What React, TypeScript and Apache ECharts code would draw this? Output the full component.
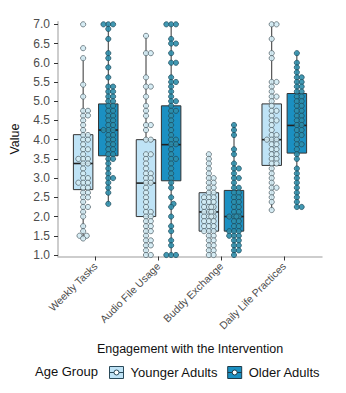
import React, { useEffect, useRef } from "react";
import * as echarts from "echarts";

const categories = ["Weekly Tasks", "Audio File Usage", "Buddy Exchange", "Daily Life Practices"];
const groupNames = ["Younger Adults", "Older Adults"];
const yTickValues = [1.0, 1.5, 2.0, 2.5, 3.0, 3.5, 4.0, 4.5, 5.0, 5.5, 6.0, 6.5, 7.0];

// box stats per category: [lower whisker, Q1, median, Q3, upper whisker]
const youngerBox = [
  [1.43, 2.7, 3.38, 4.13, 6.13],
  [1.0, 2.0, 2.87, 4.0, 6.7],
  [1.0, 1.62, 2.12, 2.62, 3.62],
  [2.17, 3.33, 4.0, 4.93, 7.0],
];
const olderBox = [
  [2.33, 3.58, 4.25, 4.93, 7.0],
  [1.0, 2.93, 3.87, 4.88, 7.0],
  [1.0, 1.62, 2.0, 2.68, 4.38],
  [2.25, 3.65, 4.37, 5.2, 6.25],
];

// individual observations
const youngerWeekly = [7.0, 6.38, 6.12, 5.43, 5.12, 4.75, 4.75, 4.63, 4.62, 4.5, 4.38, 4.25, 4.12, 4.12, 4.0, 4.0, 3.88, 3.75, 3.75, 3.62, 3.5, 3.5, 3.5, 3.38, 3.38, 3.25, 3.12, 3.0, 3.0, 2.88, 2.88, 2.88, 2.75, 2.75, 2.62, 2.62, 2.5, 2.5, 2.38, 2.25, 2.25, 2.12, 2.0, 1.75, 1.62, 1.5, 1.5, 1.43];
const olderWeekly = [7.0, 7.0, 7.0, 6.88, 6.62, 6.25, 6.12, 5.88, 5.62, 5.38, 5.38, 5.25, 5.25, 5.12, 5.12, 5.0, 5.0, 4.88, 4.88, 4.75, 4.75, 4.62, 4.62, 4.5, 4.5, 4.38, 4.38, 4.25, 4.25, 4.25, 4.12, 4.12, 4.0, 4.0, 3.88, 3.88, 3.75, 3.75, 3.62, 3.62, 3.5, 3.5, 3.38, 3.25, 3.12, 3.0, 3.0, 2.88, 2.75, 2.62, 2.33];
const youngerAudio = [6.7, 6.25, 6.25, 5.62, 5.38, 5.38, 5.12, 4.88, 4.75, 4.62, 4.38, 4.38, 4.25, 4.0, 4.0, 3.62, 3.62, 3.5, 3.38, 3.25, 3.12, 3.12, 3.0, 3.0, 2.88, 2.88, 2.75, 2.62, 2.5, 2.38, 2.25, 2.12, 2.12, 2.0, 2.0, 1.88, 1.88, 1.75, 1.75, 1.62, 1.62, 1.5, 1.38, 1.38, 1.25, 1.25, 1.12, 1.0, 1.0];
const olderAudio = [7.0, 7.0, 7.0, 6.62, 6.5, 6.5, 6.25, 6.0, 6.0, 5.62, 5.5, 5.5, 5.38, 5.25, 5.12, 5.0, 5.0, 4.88, 4.75, 4.75, 4.62, 4.5, 4.38, 4.25, 4.12, 4.0, 4.0, 3.88, 3.88, 3.75, 3.62, 3.5, 3.5, 3.38, 3.25, 3.12, 3.0, 2.88, 2.75, 2.5, 2.33, 2.25, 2.0, 1.75, 1.62, 1.38, 1.25, 1.0, 1.0, 1.0];
const youngerBuddy = [3.62, 3.5, 3.38, 3.25, 3.12, 3.0, 3.0, 2.88, 2.88, 2.75, 2.75, 2.62, 2.62, 2.5, 2.5, 2.5, 2.38, 2.38, 2.38, 2.25, 2.25, 2.25, 2.25, 2.12, 2.12, 2.12, 2.12, 2.0, 2.0, 2.0, 2.0, 1.88, 1.88, 1.88, 1.75, 1.75, 1.75, 1.62, 1.62, 1.62, 1.5, 1.5, 1.38, 1.38, 1.25, 1.25, 1.12, 1.12, 1.0, 1.0];
const olderBuddy = [4.38, 4.25, 4.12, 3.75, 3.62, 3.38, 3.25, 3.25, 3.12, 3.0, 3.0, 2.88, 2.75, 2.75, 2.62, 2.62, 2.5, 2.5, 2.38, 2.38, 2.25, 2.25, 2.12, 2.12, 2.0, 2.0, 2.0, 2.0, 1.88, 1.88, 1.75, 1.75, 1.62, 1.62, 1.62, 1.5, 1.5, 1.5, 1.38, 1.38, 1.25, 1.25, 1.12, 1.12, 1.0];
const youngerDaily = [7.0, 7.0, 6.62, 6.25, 6.12, 5.5, 5.5, 5.38, 5.25, 5.12, 5.12, 5.0, 4.88, 4.75, 4.75, 4.62, 4.5, 4.5, 4.38, 4.25, 4.12, 4.12, 4.0, 4.0, 4.0, 3.88, 3.88, 3.75, 3.75, 3.62, 3.62, 3.5, 3.5, 3.38, 3.38, 3.25, 3.12, 3.0, 2.88, 2.75, 2.75, 2.62, 2.5, 2.38, 2.17];
const olderDaily = [6.25, 6.0, 5.88, 5.75, 5.62, 5.62, 5.5, 5.5, 5.38, 5.38, 5.25, 5.25, 5.12, 5.12, 5.0, 5.0, 4.88, 4.88, 4.75, 4.75, 4.62, 4.62, 4.5, 4.5, 4.38, 4.38, 4.25, 4.25, 4.12, 4.12, 4.0, 3.88, 3.88, 3.75, 3.62, 3.5, 3.25, 3.12, 3.0, 2.88, 2.75, 2.62, 2.5, 2.38, 2.25, 2.25];

const youngerPoints = [youngerWeekly, youngerAudio, youngerBuddy, youngerDaily];
const olderPoints = [olderWeekly, olderAudio, olderBuddy, olderDaily];

const FONT = "Liberation Sans, Arial, sans-serif";
const YOUNG_FILL = "#bfe3f6";
const OLD_FILL = "#1b90c2";
const YOUNG_PT = "#d3ebf4";
const OLD_PT = "#2d8eab";
const YOUNG_PT_BORDER = "#4f5f66";
const OLD_PT_BORDER = "#1e4a5a";

function swarm(ys: number[], r: number, maxOff: number): number[] {
  const order = ys.map((_, i) => i).sort((a, b) => ys[b] - ys[a]);
  const placed: { x: number; y: number }[] = [];
  const xs = new Array(ys.length).fill(0);
  const minDist = 2 * r * 0.7;
  const step = 1.2;
  const cands: number[] = [0];
  for (let k = 1; k * step <= maxOff; k++) {
    cands.push(k * step, -k * step);
  }
  for (const i of order) {
    const y = ys[i];
    let best = 0;
    let bestScore = -Infinity;
    for (const c of cands) {
      let md = Infinity;
      for (const p of placed) {
        const dd = Math.hypot(p.x - c, p.y - y);
        if (dd < md) md = dd;
      }
      if (md >= minDist) {
        best = c;
        break;
      }
      if (md > bestScore) {
        bestScore = md;
        best = c;
      }
    }
    xs[i] = best;
    placed.push({ x: best, y });
  }
  return xs;
}

function makeSeries(name: string, offset: number, boxes: number[][], points: number[][], fill: string, ptFill: string, ptBorder: string) {
  return {
    type: "custom",
    name,
    itemStyle: { color: fill, borderColor: "#333" },
    data: categories.map((_, i) => [i + 1 + offset, boxes[i][2]]),
    renderItem: (params: any, api: any) => {
      const i = params.dataIndex;
      const cx = i + 1 + offset;
      const b = boxes[i];
      const halfW = 0.155;
      const pLow = api.coord([cx, b[0]]);
      const pQ1 = api.coord([cx, b[1]]);
      const pMed = api.coord([cx, b[2]]);
      const pQ3 = api.coord([cx, b[3]]);
      const pHigh = api.coord([cx, b[4]]);
      const left = api.coord([cx - halfW, b[2]])[0];
      const right = api.coord([cx + halfW, b[2]])[0];
      const x = pMed[0];
      const children: any[] = [
        { type: "line", shape: { x1: x, y1: pHigh[1], x2: x, y2: pQ3[1] }, style: { stroke: "#333", lineWidth: 1 } },
        { type: "line", shape: { x1: x, y1: pQ1[1], x2: x, y2: pLow[1] }, style: { stroke: "#333", lineWidth: 1 } },
        { type: "rect", shape: { x: left, y: pQ3[1], width: right - left, height: pQ1[1] - pQ3[1] }, style: { fill, stroke: "#333", lineWidth: 1 } },
        { type: "line", shape: { x1: left, y1: pMed[1], x2: right, y2: pMed[1] }, style: { stroke: "#222", lineWidth: 1.6 } },
      ];
      const vals = points[i];
      const ys = vals.map((v) => api.coord([cx, v])[1]);
      const r = 2.6;
      const xs = swarm(ys, r, 5);
      vals.forEach((_, k) => {
        children.push({
          type: "circle",
          shape: { cx: x + xs[k], cy: ys[k], r },
          style: { fill: ptFill, stroke: ptBorder, lineWidth: 0.8, opacity: 0.9 },
        });
      });
      return { type: "group", children };
    },
  };
}

const legendIcon = "path://M0 0H14V12H0Z M4.5 6a2.5 2.5 0 1 0 5 0a2.5 2.5 0 1 0 -5 0Z M0 6H4.5 M9.5 6H14";

export default function App() {
  const ref = useRef<HTMLDivElement>(null);
  useEffect(() => {
    if (!ref.current) return;
    const chart = echarts.init(ref.current, null, { renderer: "svg" });
    chart.setOption({
      animation: false,
      backgroundColor: "#ffffff",
      grid: { left: 54, right: 24, top: 21.7, bottom: 136.5 },
      xAxis: {
        type: "value",
        min: 0.4,
        max: 4.6,
        name: "Engagement with the Intervention",
        nameLocation: "middle",
        nameGap: 86,
        nameTextStyle: { color: "#111", fontSize: 12.5, fontFamily: FONT },
        splitLine: { show: false },
        axisLine: { show: true, lineStyle: { color: "#bdbdbd", width: 1.5 } },
        axisTick: { show: true, customValues: [1, 2, 3, 4], length: 4, lineStyle: { color: "#333", width: 1 } },
        axisLabel: {
          customValues: [1, 2, 3, 4],
          formatter: (v: number) => categories[Math.round(v) - 1] || "",
          rotate: 45,
          margin: 8,
          color: "#4d4d4d",
          fontSize: 10.5,
          fontFamily: FONT,
        },
      },
      yAxis: {
        type: "value",
        min: 0.961,
        max: 7.068,
        name: "Value",
        nameLocation: "middle",
        nameGap: 37,
        nameTextStyle: { color: "#111", fontSize: 12.5, fontFamily: FONT },
        splitLine: { show: false },
        axisLine: { show: true, lineStyle: { color: "#bdbdbd", width: 1.5 } },
        axisTick: { show: true, customValues: yTickValues, length: 4, lineStyle: { color: "#333", width: 1 } },
        axisLabel: {
          customValues: yTickValues,
          formatter: (v: number) => v.toFixed(1),
          margin: 8,
          color: "#4d4d4d",
          fontSize: 12,
          fontFamily: FONT,
        },
      },
      legend: {
        left: 109,
        top: 366,
        padding: 0,
        itemWidth: 14,
        itemHeight: 12,
        itemGap: 9,
        textStyle: { color: "#111", fontSize: 13, fontFamily: FONT, padding: [0, 0, 0, 2] },
        data: [
          { name: groupNames[0], icon: legendIcon, itemStyle: { color: YOUNG_FILL, borderColor: "#2a4a5a", borderWidth: 1 } },
          { name: groupNames[1], icon: legendIcon, itemStyle: { color: OLD_FILL, borderColor: "#1e3a48", borderWidth: 1 } },
        ],
      },
      graphic: [
        {
          type: "text",
          left: 35,
          top: 365,
          style: { text: "Age Group", fill: "#111", fontSize: 13, fontFamily: FONT },
        },
      ],
      series: [
        makeSeries(groupNames[0], -0.2, youngerBox, youngerPoints, YOUNG_FILL, YOUNG_PT, YOUNG_PT_BORDER),
        makeSeries(groupNames[1], 0.2, olderBox, olderPoints, OLD_FILL, OLD_PT, OLD_PT_BORDER),
      ],
    });
    return () => chart.dispose();
  }, []);
  return <div ref={ref} style={{ width: 346, height: 393, position: "absolute", left: 0, top: 0 }} />;
}
